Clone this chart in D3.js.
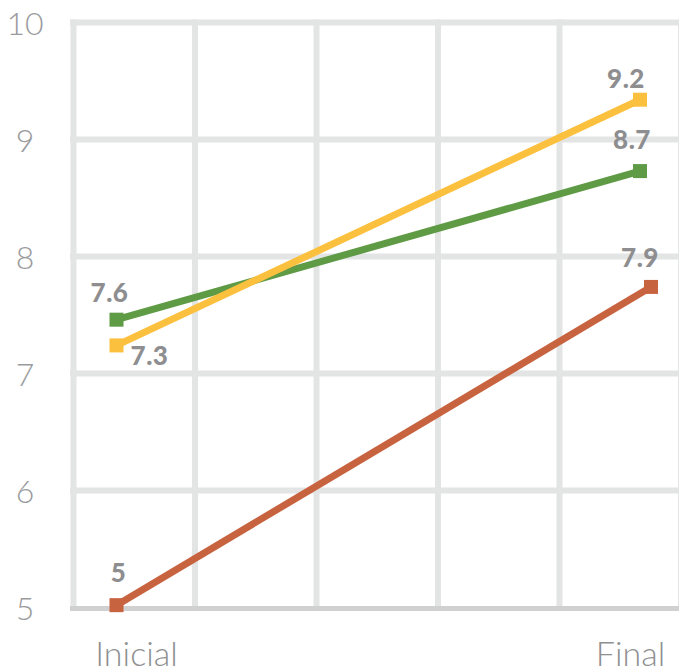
<!DOCTYPE html>
<html><head><meta charset="utf-8">
<script src="https://cdn.jsdelivr.net/npm/d3@7"></script>
<style>
html,body{margin:0;padding:0;background:#fff;}
svg{display:block;}
</style>
</head><body>
<svg id="chart" width="679" height="672"></svg>
<script>
const categories = ["Inicial", "Final"];
const yTicks = [5, 6, 7, 8, 9, 10];
const seriesNames = ["Verde", "Amarillo", "Rojo"];
const seriesColors = ["#5f9a45", "#fcc03f", "#c86340"];
const greenValues = [7.46, 8.73];
const yellowValues = [7.24, 9.34];
const redValues = [5.02, 7.74];
const greenLabels = ["7.6", "8.7"];
const yellowLabels = ["7.3", "9.2"];
const redLabels = ["5", "7.9"];
const greenX = [0, 1];
const yellowX = [0, 1];
const redX = [0, 1.021];

const series = [
  {name: seriesNames[0], color: seriesColors[0], values: greenValues, labels: greenLabels, xs: greenX,
   lab: [{dx: -7, dy: -18}, {dx: -8, dy: -22}]},
  {name: seriesNames[1], color: seriesColors[1], values: yellowValues, labels: yellowLabels, xs: yellowX,
   lab: [{dx: 33, dy: 20}, {dx: -14, dy: -12}]},
  {name: seriesNames[2], color: seriesColors[2], values: redValues, labels: redLabels, xs: redX,
   lab: [{dx: 2, dy: -23}, {dx: -11, dy: -20}]}
];

const svg = d3.select("#chart");
const y = d3.scaleLinear().domain([5, 10]).range([607.5, 22.5]);
const x = d3.scaleLinear().domain([0, 1]).range([116.5, 640]);
const gridX = d3.scaleLinear().domain([0, 5]).range([73.5, 681]);
const labelX = d3.scalePoint().domain(categories).range([136.5, 630.5]);

// horizontal grid
svg.append("g").selectAll("line").data(yTicks.filter(t => t > 5)).join("line")
  .attr("x1", 70).attr("x2", 679)
  .attr("y1", d => y(d)).attr("y2", d => y(d))
  .attr("stroke", "#e3e4e4").attr("stroke-width", 6);
// vertical grid
svg.append("g").selectAll("line").data(d3.range(0, 6)).join("line")
  .attr("x1", d => gridX(d)).attr("x2", d => gridX(d))
  .attr("y1", 19.5).attr("y2", 607)
  .attr("stroke", "#e3e4e4").attr("stroke-width", 6);
// baseline
svg.append("line").attr("x1", 70).attr("x2", 679)
  .attr("y1", y(5) + 1).attr("y2", y(5) + 1)
  .attr("stroke", "#d0d0d0").attr("stroke-width", 5);

// y tick labels
svg.append("g").selectAll("text").data(yTicks).join("text")
  .attr("x", 25).attr("y", d => y(d))
  .attr("text-anchor", "middle").attr("dominant-baseline", "central")
  .attr("font-family", "Lato, sans-serif").attr("font-weight", 300)
  .attr("font-size", 32).attr("fill", "#9a9b9d")
  .text(d => d);

// x labels
svg.append("g").selectAll("text").data(categories).join("text")
  .attr("x", d => labelX(d)).attr("y", 666)
  .attr("text-anchor", "middle")
  .attr("font-family", "Lato, sans-serif").attr("font-weight", 300)
  .attr("font-size", 34).attr("fill", "#8e8f91")
  .text(d => d);

// lines
const line = d3.line().x(d => x(d.x)).y(d => y(d.v));
series.forEach(s => {
  const pts = s.values.map((v, i) => ({v, x: s.xs[i], label: s.labels[i], off: s.lab[i]}));
  svg.append("path").datum(pts).attr("d", line)
    .attr("fill", "none").attr("stroke", s.color).attr("stroke-width", 7);
  svg.append("g").selectAll("rect").data(pts).join("rect")
    .attr("x", d => x(d.x) - 7).attr("y", d => y(d.v) - 7)
    .attr("width", 14).attr("height", 14).attr("fill", s.color);
  svg.append("g").selectAll("text").data(pts).join("text")
    .attr("x", d => x(d.x) + d.off.dx).attr("y", d => y(d.v) + d.off.dy)
    .attr("text-anchor", "middle")
    .attr("font-family", "Lato, sans-serif").attr("font-weight", 900)
    .attr("font-size", 26).attr("letter-spacing", 0.5).attr("fill", "#8e8e90")
    .text(d => d.label);
});
</script>
</body></html>
